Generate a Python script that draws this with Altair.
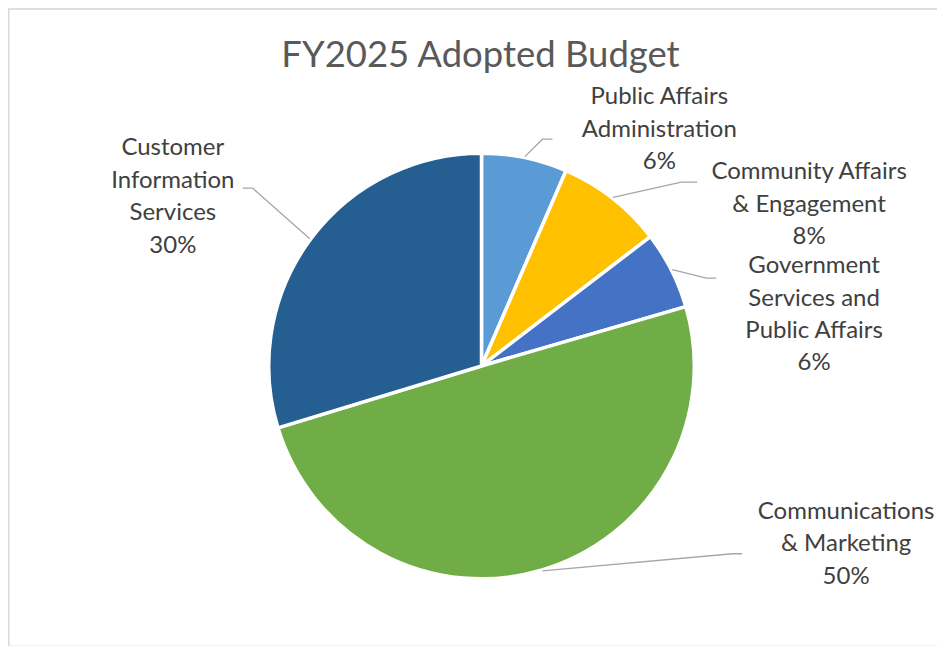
import math
import altair as alt
import pandas as pd

# ---- data ----
categories = [
    "Public Affairs Administration",
    "Community Affairs & Engagement",
    "Government Services and Public Affairs",
    "Communications & Marketing",
    "Customer Information Services",
]
values = [6.5, 8.1, 5.9, 49.8, 29.7]
pct_labels = ["6%", "8%", "6%", "50%", "30%"]
label_lines = [
    ["Public Affairs", "Administration"],
    ["Community Affairs", "& Engagement"],
    ["Government", "Services and", "Public Affairs"],
    ["Communications", "& Marketing"],
    ["Customer", "Information", "Services"],
]
colors = ["#5B9BD5", "#FFC000", "#4472C4", "#70AD47", "#255E91"]

# ---- layout (page pixel coordinates) ----
W, H = 930, 638
OX, OY = 8, 8
CX, CY, R = 482, 366, 213
label_center_x = [660, 810, 815, 847, 173]
label_first_y = [97, 172, 266, 512, 148]
LINE_H = 32.5
elbow = [(543, 139), (682, 182), (707, 278), (733, 554), (253, 188)]
leader_end = [(553, 139), (698, 182), (717, 278), (743, 554), (243, 188)]
frame_pts = [(OX + 0.75, OY + H + 30), (OX + 0.75, OY + 0.75), (OX + W + 30, OY + 0.75)]

total = sum(values)
pie_df = pd.DataFrame({"category": categories, "value": values, "idx": range(len(values))})

# leader lines: start on pie edge at each slice's mid angle
rows = []
cum = 0.0
for i, v in enumerate(values):
    mid = (cum + v / 2) / total * 2 * math.pi
    cum += v
    sx = CX + (R + 1) * math.sin(mid)
    sy = CY - (R + 1) * math.cos(mid)
    pts = [(sx, sy), elbow[i], leader_end[i]]
    for j, (px, py) in enumerate(pts):
        rows.append({"category": categories[i], "o": j, "x": px, "y": py})
lead_df = pd.DataFrame(rows)

trows = []
for i in range(len(categories)):
    lines = label_lines[i] + [pct_labels[i]]
    for j, t in enumerate(lines):
        trows.append({"text": t, "x": label_center_x[i], "y": label_first_y[i] + j * LINE_H})
text_df = pd.DataFrame(trows)

frame_df = pd.DataFrame({"o": range(3), "x": [p[0] for p in frame_pts], "y": [p[1] for p in frame_pts]})

xs = alt.Scale(domain=[OX, OX + W])
ys = alt.Scale(domain=[OY, OY + H], reverse=True)

pie = alt.Chart(pie_df).mark_arc(radius=R, stroke="white", strokeWidth=3.5).encode(
    theta=alt.Theta("value:Q", stack=True),
    color=alt.Color("category:N", scale=alt.Scale(domain=categories, range=colors), legend=None),
    order=alt.Order("idx:Q"),
    x=alt.value(CX - OX),
    y=alt.value(CY - OY),
)

leaders = alt.Chart(lead_df).mark_line(color="#A6A6A6", strokeWidth=1.3).encode(
    x=alt.X("x:Q", scale=xs, axis=None),
    y=alt.Y("y:Q", scale=ys, axis=None),
    detail="category:N",
    order="o:Q",
)

labels = alt.Chart(text_df).mark_text(
    font="Lato", fontSize=24, color="#404040", align="center", baseline="middle"
).encode(
    x=alt.X("x:Q", scale=xs, axis=None),
    y=alt.Y("y:Q", scale=ys, axis=None),
    text="text:N",
)

title_df = pd.DataFrame({"text": ["FY2025 Adopted Budget"], "x": [481], "y": [56]})
title = alt.Chart(title_df).mark_text(
    font="Lato", fontSize=36.5, color="#595959", align="center", baseline="middle"
).encode(
    x=alt.X("x:Q", scale=xs, axis=None),
    y=alt.Y("y:Q", scale=ys, axis=None),
    text="text:N",
)

frame = alt.Chart(frame_df).mark_line(color="#D9D9D9", strokeWidth=1.5).encode(
    x=alt.X("x:Q", scale=xs, axis=None),
    y=alt.Y("y:Q", scale=ys, axis=None),
    order="o:Q",
)

chart = alt.layer(frame, pie, leaders, labels, title).properties(
    width=W, height=H, padding=0, autosize=alt.AutoSizeParams(type="none")
).configure_view(strokeOpacity=0, strokeWidth=0).configure(background="white")

chart.save("out.html", embed_options={"renderer": "svg", "actions": False})
